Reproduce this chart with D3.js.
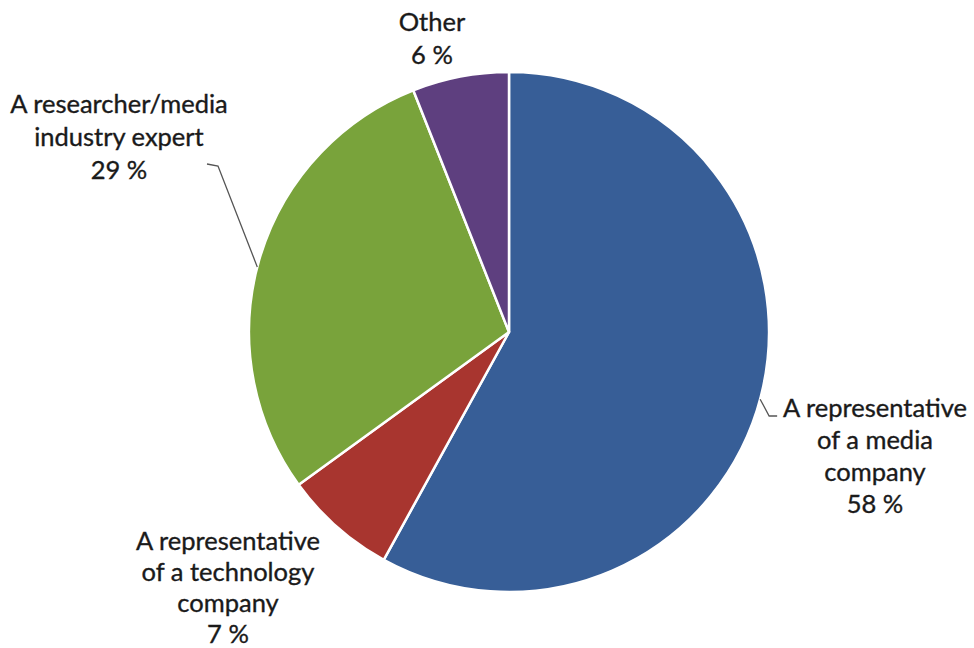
<!DOCTYPE html>
<html>
<head>
<meta charset="utf-8">
<script src="https://cdn.jsdelivr.net/npm/d3@7"></script>
<style>
  html, body { margin: 0; padding: 0; background: #fff; }
  svg { display: block; }
  text { font-family: Lato, "Open Sans", sans-serif; fill: #1a1a1a; stroke: #1a1a1a; stroke-width: 0.35px; }
</style>
</head>
<body>
<svg id="chart" width="974" height="648"></svg>
<script>
// Respondent groups, clockwise from 12 o'clock
const categories = [
  "A representative of a media company",
  "A representative of a technology company",
  "A researcher/media industry expert",
  "Other"
];
const shares = [58, 7, 29, 6];
const sliceColors = ["#375e97", "#a8352f", "#79a33b", "#5e3f7f"];
// Label lines as they are broken in the chart
const labelLines = [
  ["A representative", "of a media", "company"],
  ["A representative", "of a technology", "company"],
  ["A researcher/media", "industry expert"],
  ["Other"]
];

const W = 974, H = 648;
const cx = 509, cy = 332, R = 260;

const svg = d3.select("#chart");
const g = svg.append("g").attr("transform", `translate(${cx},${cy})`);

const data = categories.map((c, i) => ({ name: c, value: shares[i], color: sliceColors[i], lines: labelLines[i] }));

const pie = d3.pie().value(d => d.value).sort(null);
const arc = d3.arc().innerRadius(0).outerRadius(R);
const arcs = pie(data);

g.selectAll("path.slice")
  .data(arcs)
  .join("path")
  .attr("class", "slice")
  .attr("d", arc)
  .attr("fill", d => d.data.color)
  .attr("stroke", "#fff")
  .attr("stroke-width", 2.5)
  .attr("stroke-linejoin", "round");

// Label anchor positions (centre x, first baseline) and line spacing
const labelPos = [
  { x: 875, y: 417, dy: 32 },
  { x: 228, y: 550, dy: 31 },
  { x: 119, y: 113, dy: 33 },
  { x: 432, y: 31, dy: 33 }
];

data.forEach((d, i) => {
  const p = labelPos[i];
  const t = svg.append("text")
    .attr("text-anchor", "middle")
    .attr("font-size", 25.5);
  const lines = d.lines.concat([d.value + " %"]);
  lines.forEach((ln, k) => {
    t.append("tspan").attr("x", p.x).attr("y", p.y + k * p.dy).text(ln);
  });
});

// Leader lines from slice edge to the label
function edgePoint(angleDeg) {
  const a = angleDeg * Math.PI / 180;
  return [cx + R * Math.sin(a), cy - R * Math.cos(a)];
}
const line = d3.line();
// media company label
const aMedia = 105;
const pm = edgePoint(aMedia);
svg.append("path")
  .attr("d", line([pm, [pm[0] + 9, 416], [pm[0] + 17, 416]]))
  .attr("fill", "none").attr("stroke", "#555").attr("stroke-width", 1.3);
// researcher label
const aRes = 284.5;
const pr = edgePoint(aRes);
svg.append("path")
  .attr("d", line([[207, 164], [218, 166], pr]))
  .attr("fill", "none").attr("stroke", "#555").attr("stroke-width", 1.3);
</script>
</body>
</html>
